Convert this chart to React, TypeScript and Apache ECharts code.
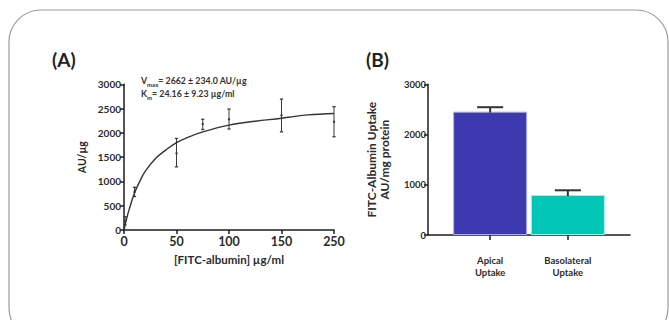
import React, { useEffect, useRef } from "react";
import * as echarts from "echarts";

// Panel A: FITC-albumin binding data
const aConc = [1, 10, 50, 75, 100, 150, 250];
const aMean = [190, 780, 1580, 2180, 2280, 2360, 2230];
const aLow = [105, 690, 1300, 2070, 2080, 2020, 1920];
const aHigh = [275, 880, 1885, 2280, 2490, 2695, 2540];
// fitted curve
const fitX = [0, 2, 5, 10, 15, 20, 30, 40, 50, 60, 75, 100, 125, 150, 175, 200, 250];
const fitY = [0, 190, 430, 760, 1000, 1200, 1470, 1650, 1800, 1900, 2020, 2160, 2240, 2300, 2340, 2370, 2400];
const aTicks = [0, 50, 100, 150, 250];

// Panel B
const bCats = ["Apical\nUptake", "Basolateral\nUptake"];
const bVals = [2456, 797];
const bErr = [88, 93];
const bColors = ["#3c3aae", "#00c6b6"];
const bBorders = ["#aeadea", "#a8ece6"];

// x axis of panel A is compressed after 150 (150 -> 250 drawn as one 50-step)
const tx = (x: number) => (x <= 150 ? x : 150 + (x - 150) / 2);

const FONT = "Lato";
const TXT = "#2b2b2b";

export default function App() {
  const ref = useRef<HTMLDivElement>(null);
  useEffect(() => {
    if (!ref.current) return;
    const chart = echarts.init(ref.current, undefined, { renderer: "svg" });
    const axisLine = { show: true, onZero: false, lineStyle: { color: "#1e1e1e", width: 1.5 } };
    const axisTick = { show: true, length: 4, lineStyle: { color: "#1e1e1e", width: 1.5 } };
    const label = { color: TXT, fontFamily: FONT, fontSize: 10, fontWeight: "bold" as const };
    chart.setOption({
      animation: false,
      backgroundColor: "#ffffff",
      grid: [
        { left: 124, right: 335, top: 84.3, bottom: 90, containLabel: false },
        { left: 428, right: 39, top: 84.3, bottom: 85, containLabel: false },
      ],
      xAxis: [
        {
          gridIndex: 0,
          type: "value",
          min: 0,
          max: 200,
          interval: 50,
          axisLine,
          axisTick,
          splitLine: { show: false },
          axisLabel: {
            ...label,
            fontSize: 12.5,
            margin: 5,
            formatter: (v: number) => (v === 200 ? String(aTicks[4]) : String(v)),
          },
          name: "[FITC-albumin] µg/ml",
          nameLocation: "middle",
          nameGap: 23,
          nameTextStyle: { color: TXT, fontFamily: FONT, fontSize: 11.5, fontWeight: "bold" },
        },
        {
          gridIndex: 1,
          type: "value",
          min: -0.8,
          max: 1.8,
          axisLine,
          axisTick: { show: true, length: 5, lineStyle: { color: "#1e1e1e", width: 1.5 }, customValues: [0, 1] },
          splitLine: { show: false },
          axisLabel: {
            ...label,
            fontSize: 9.5,
            margin: 19,
            lineHeight: 12.5,
            customValues: [0, 1],
            formatter: (v: number) => bCats[Math.round(v)] ?? "",
          },
        },
      ],
      yAxis: [
        {
          gridIndex: 0,
          type: "value",
          min: 0,
          max: 3000,
          interval: 500,
          axisLine,
          axisTick,
          splitLine: { show: false },
          axisLabel: { ...label, margin: 3, formatter: (v: number) => String(v) },
          name: "AU/µg",
          nameLocation: "middle",
          nameGap: 37,
          nameTextStyle: { color: TXT, fontFamily: FONT, fontSize: 10.5, fontWeight: "bold" },
        },
        {
          gridIndex: 1,
          type: "value",
          min: 0,
          max: 3000,
          interval: 1000,
          axisLine,
          axisTick,
          splitLine: { show: false },
          axisLabel: { ...label, fontSize: 9.5, margin: 2, formatter: (v: number) => String(v) },
          name: "FITC-Albumin Uptake\nAU/mg protein",
          nameLocation: "middle",
          nameGap: 37,
          nameTextStyle: { color: TXT, fontFamily: FONT, fontSize: 12, fontWeight: "bold", lineHeight: 13 },
        },
      ],
      series: [
        {
          type: "line",
          xAxisIndex: 0,
          yAxisIndex: 0,
          data: fitX.map((x, i) => [tx(x), fitY[i]]),
          smooth: 0.4,
          showSymbol: false,
          lineStyle: { color: "#333", width: 1.4 },
          silent: true,
        },
        {
          type: "custom",
          xAxisIndex: 0,
          yAxisIndex: 0,
          data: aConc.map((x, i) => [tx(x), aMean[i], aLow[i], aHigh[i]]),
          encode: { x: 0, y: 1 },
          renderItem: (_p: any, api: any) => {
            const x = api.value(0);
            const pM = api.coord([x, api.value(1)]);
            const pL = api.coord([x, api.value(2)]);
            const pH = api.coord([x, api.value(3)]);
            const c = 1.6;
            const st = { stroke: "#3a3a3a", lineWidth: 1 };
            return {
              type: "group",
              children: [
                { type: "line", shape: { x1: pL[0], y1: pL[1], x2: pH[0], y2: pH[1] }, style: st },
                { type: "line", shape: { x1: pL[0] - c, y1: pL[1], x2: pL[0] + c, y2: pL[1] }, style: { ...st, lineWidth: 1.3 } },
                { type: "line", shape: { x1: pH[0] - c, y1: pH[1], x2: pH[0] + c, y2: pH[1] }, style: { ...st, lineWidth: 1.3 } },
                { type: "circle", shape: { cx: pM[0], cy: pM[1], r: 1.2 }, style: { fill: "#3a3a3a" } },
              ],
            };
          },
        },
        {
          type: "bar",
          xAxisIndex: 1,
          yAxisIndex: 1,
          barWidth: 74,
          data: bVals.map((v, i) => ({
            value: [i, v],
            itemStyle: { color: bColors[i], borderColor: bBorders[i], borderWidth: 1 },
          })),
        },
        {
          type: "custom",
          xAxisIndex: 1,
          yAxisIndex: 1,
          data: bVals.map((v, i) => [i, v + bErr[i]]),
          encode: { x: 0, y: 1 },
          z: 5,
          renderItem: (p: any, api: any) => {
            const x = api.value(0);
            const pT = api.coord([x, api.value(1)]);
            const pB = api.coord([x, bVals[p.dataIndex]]);
            const st = { stroke: "#333", lineWidth: 2 };
            return {
              type: "group",
              children: [
                { type: "line", shape: { x1: pT[0], y1: pB[1] + 1, x2: pT[0], y2: pT[1] }, style: st },
                { type: "line", shape: { x1: pT[0] - 13, y1: pT[1], x2: pT[0] + 13, y2: pT[1] }, style: st },
              ],
            };
          },
        },
      ],
      graphic: [
        {
          type: "rect",
          shape: { x: 9, y: 10, width: 659, height: 330, r: 32 },
          style: { fill: "none", stroke: "#9c9c9c", lineWidth: 1.2 },
          silent: true,
        },
        {
          type: "text",
          left: 52,
          top: 50,
          style: { text: "(A)", fontFamily: FONT, fontSize: 19, fontWeight: "bold", fill: "#222" },
        },
        {
          type: "text",
          left: 366,
          top: 50,
          style: { text: "(B)", fontFamily: FONT, fontSize: 19, fontWeight: "bold", fill: "#222" },
        },
        {
          type: "text",
          left: 141,
          top: 74,
          style: {
            text: "V{s|max}= 2662 ± 234.0 AU/µg\nK{s|m}= 24.16 ± 9.23 µg/ml",
            fontFamily: FONT,
            fontSize: 8.8,
            fontWeight: "bold",
            fill: "#333",
            lineHeight: 13,
            rich: {
              s: { fontSize: 6, fontFamily: FONT, fontWeight: "bold", fill: "#333", verticalAlign: "bottom", padding: [4, 0, 0, 0] },
            },
          },
        },
      ],
    });
    return () => chart.dispose();
  }, []);
  return (
    <div
      ref={ref}
      style={{ position: "absolute", left: 0, top: 0, width: 669, height: 320 }}
    />
  );
}
